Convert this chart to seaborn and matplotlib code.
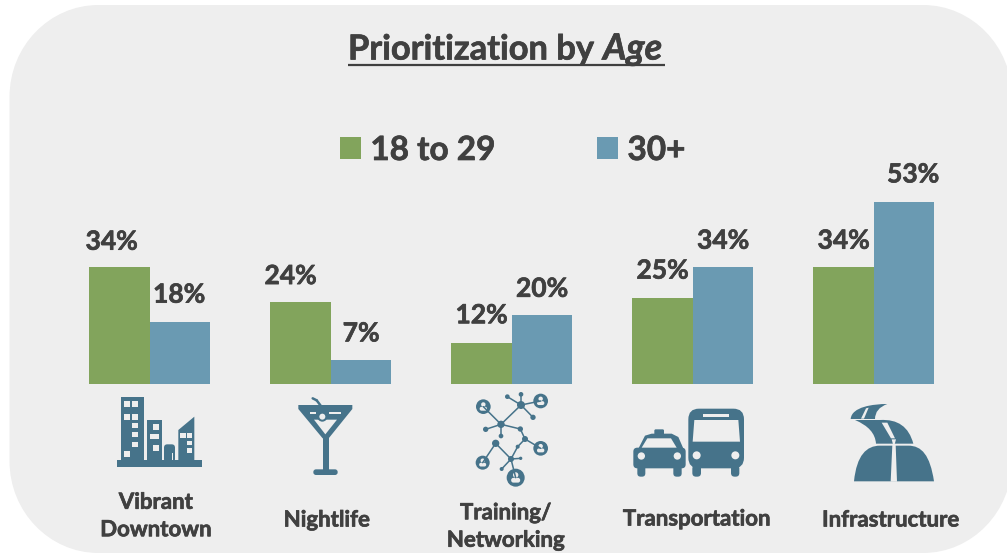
import numpy as np
import pandas as pd
import matplotlib
matplotlib.use("Agg")
import matplotlib.pyplot as plt
import matplotlib.patheffects as pe
import seaborn as sns
from matplotlib.patches import Rectangle, Circle, Polygon, FancyBboxPatch, PathPatch
from matplotlib.path import Path

# ---- data ----
categories = ["Vibrant\nDowntown", "Nightlife", "Training/\nNetworking", "Transportation", "Infrastructure"]
young = [34, 24, 12, 25, 34]
older = [18, 7, 20, 34, 53]
groups = ["18 to 29", "30+"]

# ---- style ----
GREEN, BLUE, ICON, INK, PANEL = "#82A45C", "#6A9AB2", "#46738A", "#404040", "#EEEEEE"
FONT = "Lato"
W, H = 1007, 554
label_dx = [-8, -10, 0, 0, 0, -1, 0, 0, 0, 9]          # px nudges of the value labels
label_dy = [25.5, 25.5, 27.5, 27.5, 26.5, 27.5, 26.5, 26.5, 26.5, 27.5]
cat_pos = [(156, 516), (327, 520), (506, 526.5), (697, 519), (891, 520)]
BOLD = [pe.withStroke(linewidth=0.5, foreground=INK)]

sns.set_theme(style="white")
plt.rcParams["font.family"] = [FONT, "DejaVu Sans"]
fig = plt.figure(figsize=(W / 100, H / 100), dpi=100, facecolor="white")

# pixel-space layer for the panel, icons and texts
bg = fig.add_axes([0, 0, 1, 1], zorder=0)
bg.set_xlim(0, W); bg.set_ylim(H, 0); bg.axis("off")

# panel with elliptical corners
L, T, R, B = 9.5, 5, 1012, 553
rx, ry, k = 89, 92, 0.448
verts = [(L + rx, T), (R - rx, T), (R - rx * k, T), (R, T + ry * k), (R, T + ry), (R, B - ry),
         (R, B - ry * k), (R - rx * k, B), (R - rx, B), (L + rx, B), (L + rx * k, B), (L, B - ry * k),
         (L, B - ry), (L, T + ry), (L, T + ry * k), (L + rx * k, T), (L + rx, T)]
codes = [Path.MOVETO, Path.LINETO, Path.CURVE4, Path.CURVE4, Path.CURVE4, Path.LINETO,
         Path.CURVE4, Path.CURVE4, Path.CURVE4, Path.LINETO, Path.CURVE4, Path.CURVE4, Path.CURVE4,
         Path.LINETO, Path.CURVE4, Path.CURVE4, Path.CURVE4]
bg.add_patch(PathPatch(Path(verts, codes), fc=PANEL, ec="none"))


class Icon:
    """Draw decorations using coordinates measured on a 3x crop whose origin is (ox, oy)."""
    def __init__(self, ox, oy):
        self.ox, self.oy = ox, oy
    def p(self, x, y):
        return (self.ox + x / 3, self.oy + y / 3)
    def rect(self, x0, y0, x1, y1, c=ICON):
        a = self.p(x0, y0); b = self.p(x1, y1)
        bg.add_patch(Rectangle(a, b[0] - a[0], b[1] - a[1], fc=c, ec="none"))
    def rrect(self, x0, y0, x1, y1, r, c=ICON):
        a = self.p(x0, y0); b = self.p(x1, y1); r /= 3
        bg.add_patch(FancyBboxPatch((a[0] + r, a[1] + r), b[0] - a[0] - 2 * r, b[1] - a[1] - 2 * r,
                                    boxstyle=f"round,pad={r},rounding_size={r}", fc=c, ec="none"))
    def poly(self, pts, c=ICON):
        bg.add_patch(Polygon([self.p(*q) for q in pts], closed=True, fc=c, ec="none"))
    def circ(self, x, y, r, c=ICON):
        bg.add_patch(Circle(self.p(x, y), r / 3, fc=c, ec="none"))
    def line(self, a, b, lw=1.1, c=ICON):
        pa, pb = self.p(*a), self.p(*b)
        bg.plot([pa[0], pb[0]], [pa[1], pb[1]], color=c, lw=lw, solid_capstyle="round")
    def curve(self, pts, cds, c=ICON):
        bg.add_patch(PathPatch(Path([self.p(*q) for q in pts], cds), fc=c, ec="none"))


a = Icon(90, 385)
# city
a.rect(80, 225, 335, 245); a.rect(92, 37, 163, 230); a.rect(172, 105, 215, 230)
a.poly([(265, 135), (313, 95), (313, 230), (265, 230)])
a.rrect(222, 178, 255, 232, 10)
for w in [(103, 47, 120, 65), (127, 47, 145, 65), (103, 87, 120, 105), (127, 87, 145, 105),
          (125, 113, 145, 130), (125, 140, 145, 157), (125, 170, 145, 187), (103, 197, 120, 215),
          (190, 118, 207, 135), (180, 148, 207, 163), (190, 180, 207, 197),
          (270, 145, 287, 158), (290, 145, 305, 158), (290, 167, 305, 180), (290, 190, 305, 205),
          (245, 205, 250, 225)]:
    a.rect(*w, c=PANEL)
# martini
a.poly([(625, 60), (787, 60), (787, 72), (716, 160), (698, 160), (625, 72)])
a.rect(698, 150, 716, 258); a.rrect(670, 253, 743, 270, 8)
a.poly([(672, 104), (741, 104), (706, 148)], c=PANEL)
a.rect(660, 82, 678, 86, c=PANEL); a.rect(718, 82, 752, 86, c=PANEL)
a.circ(697, 95, 15, c=ICON); a.circ(697, 95, 9, c=PANEL)
a.line((668, 40), (680, 46), lw=1.8); a.line((680, 46), (692, 62), lw=1.8)
# network
edges = [((1293, 60), (1252, 35)), ((1293, 60), (1293, 28)), ((1293, 60), (1352, 48)), ((1293, 60), (1329, 97)),
         ((1293, 60), (1233, 118)), ((1233, 118), (1180, 65)), ((1233, 118), (1187, 133)), ((1233, 118), (1233, 153)),
         ((1233, 118), (1291, 132)), ((1291, 132), (1305, 162)), ((1305, 162), (1352, 190)), ((1305, 162), (1283, 185)),
         ((1283, 185), (1263, 222)), ((1217, 175), (1263, 222)), ((1217, 175), (1178, 233)), ((1263, 222), (1292, 220)),
         ((1263, 222), (1235, 252)), ((1263, 222), (1277, 278))]
for e in edges:
    a.line(*e)
for x, y, r in [(1293, 60, 12), (1233, 118, 11), (1217, 175, 11), (1263, 222, 9), (1305, 162, 9), (1291, 132, 8),
                (1252, 35, 7), (1293, 28, 7), (1329, 97, 8), (1187, 133, 8), (1233, 153, 7), (1283, 185, 6),
                (1292, 220, 5), (1235, 252, 6)]:
    a.circ(x, y, r)
for x, y, r in [(1180, 65, 22), (1352, 48, 22), (1352, 190, 22), (1178, 233, 21), (1277, 278, 27)]:
    a.circ(x, y, r)
    a.circ(x, y - r * 0.3, r * 0.3, c=PANEL)
    a.rrect(x - r * 0.5, y + r * 0.02, x + r * 0.5, y + r * 0.55, r * 0.25, c=PANEL)

t = Icon(600, 385)
# taxi
t.rrect(100, 188, 257, 250, 12)
t.poly([(113, 195), (135, 152), (155, 146), (215, 146), (235, 156), (252, 195)])
t.rrect(163, 133, 192, 150, 4)
t.poly([(125, 188), (142, 160), (213, 160), (230, 188)], c=PANEL)
t.circ(124, 213, 11, c=PANEL); t.circ(232, 213, 11, c=PANEL)
t.rrect(112, 240, 136, 275, 10); t.rrect(220, 240, 245, 275, 10)
# bus
t.rrect(265, 71, 432, 250, 32)
t.poly([(278, 170), (283, 105), (415, 105), (420, 170)], c=PANEL)
t.rect(308, 87, 388, 97, c=PANEL)
t.circ(290, 211, 12, c=PANEL); t.circ(406, 211, 12, c=PANEL)
t.rrect(277, 240, 303, 275, 11); t.rrect(393, 240, 418, 275, 11)
# road
C3, C4, MT, LT = Path.CURVE3, Path.CURVE4, Path.MOVETO, Path.LINETO
t.curve([(762, 289), (770, 210), (800, 182), (840, 182), (925, 182), (965, 182), (990, 210), (1002, 289), (762, 289)],
        [MT, C4, C4, C4, LT, C4, C4, C4, LT])
t.poly([(877, 180), (887, 180), (891, 290), (872, 290)], c=PANEL)
t.curve([(765, 105), (840, 105), (920, 100), (940, 176), (828, 176), (825, 130), (765, 105)],
        [MT, LT, C3, C3, LT, C3, C3])
t.curve([(752, 102), (755, 65), (820, 57), (862, 57), (825, 70), (825, 102), (752, 102)],
        [MT, C4, C4, C4, C3, C3, LT])
t.poly([(875, 163), (888, 163), (884, 178), (879, 178)], c=PANEL)
t.poly([(845, 113), (862, 113), (885, 160), (873, 160)], c=PANEL)
t.poly([(798, 70), (806, 68), (792, 101), (783, 101)], c=PANEL)

# title with an italic last word and a single underline
bg.text(348, 59.5, "Prioritization by ", fontsize=24.8, fontweight="bold", color=INK, va="baseline", ha="left",
        path_effects=BOLD)
bg.text(603, 59.5, "Age", fontsize=26, fontweight="bold", fontstyle="italic", color=INK, va="baseline", ha="left",
        path_effects=BOLD)
bg.plot([348, 665], [64.5, 64.5], color=INK, lw=1.6, solid_capstyle="butt")

for name, (x, y) in zip(categories, cat_pos):
    bg.text(x, y, name, fontsize=16, fontweight="bold", color=INK, ha="center", va="center", linespacing=1.38,
            path_effects=BOLD)

# ---- bars: full-figure transparent axes, category unit = 181 px, 1 % = 3.435 px ----
ax = fig.add_axes([0, 0, 1, 1], zorder=1)
df = pd.DataFrame({
    "category": categories * 2,
    "group": [groups[0]] * len(young) + [groups[1]] * len(older),
    "value": young + older,
})
sns.barplot(data=df, x="category", y="value", hue="group", palette=[GREEN, BLUE], saturation=1,
            width=0.6685, gap=0, ax=ax, errorbar=None, edgecolor="none")
ax.set_xlim(-149.5 / 181 - 0.002, (W - 149.5) / 181 - 0.002)
ax.set_ylim(-(H - 384) / 3.435, 384 / 3.435)
ax.patch.set_alpha(0)
ax.axis("off")

i = 0
for cont in ax.containers[:2]:
    for bar in cont:
        ax.annotate(f"{bar.get_height():.0f}%", (bar.get_x() + bar.get_width() / 2, bar.get_height()),
                    xytext=(label_dx[i] * 0.72, label_dy[i] * 0.72), textcoords="offset points",
                    ha="center", va="center", fontsize=19, fontweight="bold", color=INK, path_effects=BOLD)
        i += 1

sns.move_legend(ax, "lower left", bbox_to_anchor=(340 / W, 1 - 165 / H), ncol=2, frameon=False, title=None,
                handlelength=0.64, handleheight=0.64, handletextpad=0.27, columnspacing=3.05,
                labelcolor=INK, prop={"family": FONT, "weight": "bold", "size": 24}, borderpad=0, borderaxespad=0)
for txt in ax.get_legend().get_texts():
    txt.set_path_effects(BOLD)

fig.savefig("out.png", dpi=100, facecolor="white")
